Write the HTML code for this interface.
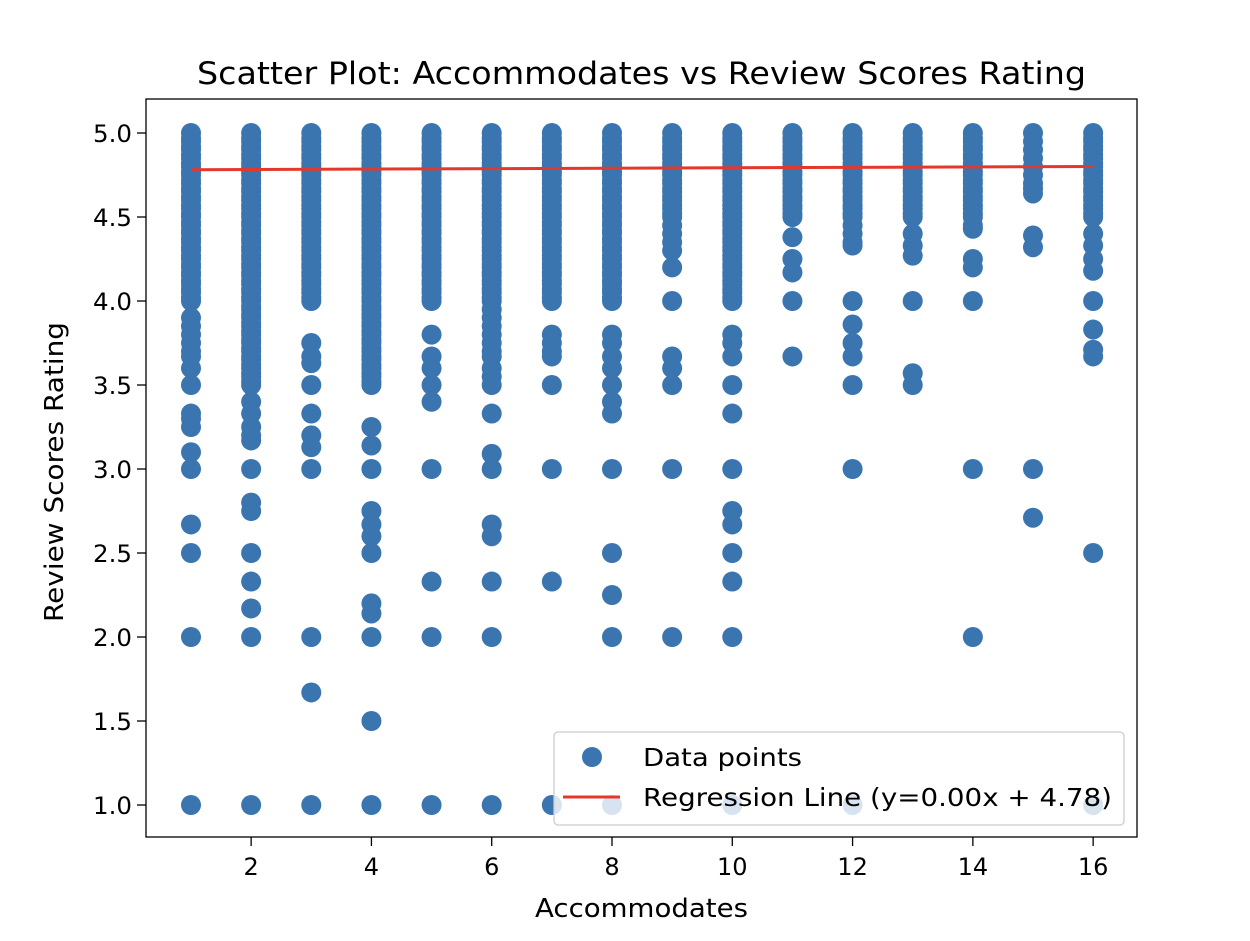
<!DOCTYPE html>
<html><head><meta charset="utf-8"><style>
body{margin:0;background:#fff;}
svg text{font-family:"DejaVu Sans","Liberation Sans",sans-serif;fill:#000;}
</style></head><body>
<svg id="chart" width="1250" height="936" xmlns="http://www.w3.org/2000/svg">
<rect width="1250" height="936" fill="#fff"/>
<g id="points"></g>
<g id="axes"></g>
</svg>
<script>
const categories=[1,2,3,4,5,6,7,8,9,10,11,12,13,14,15,16];
const D=[5,4.97,4.95,4.92,4.9,4.87,4.85,4.82,4.8,4.77,4.75,4.72,4.7,4.67,4.65,4.62,4.6,4.57,4.55,4.52,4.5];
const D4=[4.47,4.45,4.42,4.4,4.37,4.35,4.32,4.3,4.27,4.25,4.22,4.2,4.17,4.15,4.12,4.1,4.07,4.05,4.02,4.0];
const D35=[3.97,3.95,3.92,3.9,3.87,3.85,3.82,3.8,3.77,3.75,3.72,3.7,3.67,3.65,3.62,3.6,3.57,3.55,3.52,3.5];
const scores=[
 D.concat(D4,[3.9,3.85,3.8,3.75,3.7,3.67,3.6,3.5,3.33,3.3,3.25,3.1,3.0,2.67,2.5,2.0,1.0]),
 D.concat(D4,D35,[3.4,3.33,3.25,3.2,3.17,3.0,2.8,2.75,2.5,2.33,2.17,2.0,1.0]),
 D.concat(D4,[3.75,3.67,3.63,3.5,3.33,3.2,3.13,3.0,2.0,1.67,1.0]),
 D.concat(D4,D35,[3.25,3.14,3.0,2.75,2.67,2.6,2.5,2.2,2.14,2.0,1.5,1.0]),
 D.concat(D4,[3.8,3.67,3.6,3.5,3.4,3.0,2.33,2.0,1.0]),
 D.concat(D4,[3.95,3.9,3.85,3.8,3.75,3.7,3.67,3.6,3.55,3.5,3.33,3.09,3.0,2.67,2.6,2.33,2.0,1.0]),
 D.concat(D4,[3.8,3.75,3.7,3.67,3.5,3.0,2.33,1.0]),
 D.concat(D4,[3.8,3.75,3.67,3.6,3.5,3.4,3.33,3.0,2.5,2.25,2.0,1.0]),
 D.concat([4.45,4.4,4.35,4.3,4.2,4.0,3.67,3.6,3.5,3.0,2.0]),
 D.concat(D4,[3.8,3.75,3.67,3.5,3.33,3.0,2.75,2.67,2.5,2.33,2.0,1.0]),
 D.concat([4.38,4.25,4.17,4.0,3.67]),
 D.concat([4.45,4.4,4.35,4.33,4.0,3.86,3.75,3.67,3.5,3.0,1.0]),
 D.concat([4.4,4.33,4.27,4.0,3.57,3.5]),
 D.concat([4.45,4.43,4.25,4.2,4.0,3.0,2.0]),
 [5,4.95,4.9,4.85,4.8,4.75,4.7,4.67,4.64,4.39,4.32,3.0,2.71],
 D.concat([4.4,4.33,4.25,4.18,4.0,3.83,3.71,3.67,2.5,1.0])
];
const xTicks=[2,4,6,8,10,12,14,16];
const yTicks=[1.0,1.5,2.0,2.5,3.0,3.5,4.0,4.5,5.0];
const regSlope=[0.0013];
const regIntercept=[4.78];
const L=146,R=1137,T=99,B=837;
function sx(v){return 191+(v-1)*(1093-251)/14;}
function sy(v){return 805-(v-1)*168;}
const NS="http://www.w3.org/2000/svg";
const svg=document.getElementById('chart'),pg=document.getElementById('points'),ax=document.getElementById('axes');
function mk(t,a,p){const e=document.createElementNS(NS,t);for(const k in a)e.setAttribute(k,a[k]);(p||svg).appendChild(e);return e;}
categories.forEach((c,i)=>{scores[i].forEach(s=>{
 const e=mk('circle',{cx:sx(c),cy:sy(s),r:10,fill:'#3a75b0'},pg);
 
 
});});
const rl=mk('line',{x1:sx(1),y1:sy(regIntercept[0]+regSlope[0]*1),x2:sx(16),y2:sy(regIntercept[0]+regSlope[0]*16),stroke:'#e3382c','stroke-width':3},ax);


const fr=mk('rect',{x:L,y:T,width:R-L,height:B-T,fill:'none',stroke:'#000','stroke-width':1.3},ax);


xTicks.forEach(v=>{
 mk('line',{x1:sx(v),x2:sx(v),y1:B,y2:B+9,stroke:'#000','stroke-width':1.3},ax);
 const t=mk('text',{x:sx(v),y:B+38,'text-anchor':'middle','font-size':24},ax);t.textContent=v;
 
 
});
yTicks.forEach(v=>{
 mk('line',{x1:L-9,x2:L,y1:sy(v),y2:sy(v),stroke:'#000','stroke-width':1.3},ax);
 const t=mk('text',{x:L-14,y:sy(v)+9,'text-anchor':'end','font-size':24,textLength:39,lengthAdjust:'spacingAndGlyphs'},ax);t.textContent=v.toFixed(1);
 
 
});
</script>
<svg width="1250" height="936" style="position:absolute;left:0;top:0" xmlns="http://www.w3.org/2000/svg">
<text x="197" y="84" font-size="31" textLength="889" lengthAdjust="spacingAndGlyphs">Scatter Plot: Accommodates vs Review Scores Rating</text>
<text x="535" y="917" font-size="26" textLength="213" lengthAdjust="spacingAndGlyphs">Accommodates</text>
<text x="0" y="0" font-size="26" textLength="300" lengthAdjust="spacingAndGlyphs" transform="translate(63 622) rotate(-90)">Review Scores Rating</text>
<g>
<rect x="554" y="732" width="570" height="93" rx="4" fill="#fff" fill-opacity="0.8" stroke="#ccc" stroke-width="1.3"/>
<circle cx="592" cy="757" r="10" fill="#3a75b0"/>
<text x="643" y="766" font-size="25" textLength="159" lengthAdjust="spacingAndGlyphs">Data points</text>
<line x1="563" y1="797" x2="620" y2="797" stroke="#e3382c" stroke-width="3"/>
<text x="643" y="806" font-size="25" textLength="469" lengthAdjust="spacingAndGlyphs">Regression Line (y=0.00x + 4.78)</text>
</g>
</svg>
</body></html>
